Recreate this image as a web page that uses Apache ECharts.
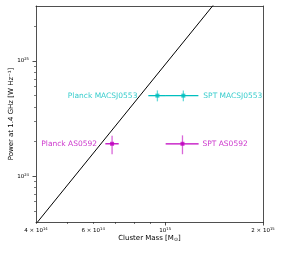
<!DOCTYPE html>
<html><head><meta charset="utf-8">
<script src="https://cdn.jsdelivr.net/npm/echarts@6/dist/echarts.min.js"></script>
<style>html,body{margin:0;padding:0;background:#fff}#c{width:293px;height:253px}</style>
</head><body><div id="c"></div>
<script>
const pointNames = ['Planck MACSJ0553', 'SPT MACSJ0553', 'Planck AS0592', 'SPT AS0592'];
const pointColors = ['#00bfbf', '#00bfbf', '#bf00bf', '#bf00bf'];
const labelSide = ['left', 'right', 'left', 'right'];
const massValues = [9.46e14, 1.137e15, 6.86e14, 1.13e15];
const massLow = [8.87e14, 1.005e15, 6.54e14, 1.003e15];
const massHigh = [1.005e15, 1.265e15, 7.19e14, 1.267e15];
const powerValues = [5.0e24, 5.0e24, 1.91e24, 1.91e24];
const powerLow = [4.46e24, 4.46e24, 1.55e24, 1.55e24];
const powerHigh = [5.55e24, 5.55e24, 2.24e24, 2.26e24];
const relationMass = [4.0e14, 1.45e15];
const relationPower = [3.85e23, 3.4e25];
const xRange = [4e14, 2e15];
const yRange = [4e23, 3e25];
const xMajorTicks = [1e15, 1.99999e15];
const xMinorTicks = [4.00001e14, 5e14, 6e14, 7e14, 8e14, 9e14];
const xTickLabels = [4.00001e14, 6e14, 1e15, 1.99999e15];
const yMajorTicks = [1e24, 1e25];
const yMinorTicks = [5e23, 6e23, 7e23, 8e23, 9e23, 2e24, 3e24, 4e24, 5e24, 6e24, 7e24, 8e24, 9e24, 2e25];
const xTitle = 'Cluster Mass [M{sub|\u2299}]';
const yTitle = 'Power at 1.4 GHz [W Hz\u207B\u00B9]';

function sciFmt(v) {
  const e = Math.floor(Math.log10(v) + 1e-4);
  const m = Math.round(v / Math.pow(10, e));
  return m === 1 ? '{b|10}{s|' + e + '}' : '{b|' + m + ' \u00D7 10}{s|' + e + '}';
}
const rich = { b: { fontSize: 5.5, fontFamily: 'DejaVu Sans', color: '#000' }, s: { fontSize: 3.8, fontFamily: 'DejaVu Sans', color: '#000', verticalAlign: 'bottom', padding: [0, 0, 3, 0] } };
const grid = { left: 36, top: 6, right: 30, bottom: 31, containLabel: false, outerBoundsMode: 'none' };

const chart = echarts.init(document.getElementById('c'), null, { renderer: 'canvas' });
const errData = massValues.map((m, i) => [m, powerValues[i], massLow[i], massHigh[i], powerLow[i], powerHigh[i], i]);
const ptData = massValues.map((m, i) => ({
  value: [m, powerValues[i]], name: pointNames[i],
  itemStyle: { color: pointColors[i] },
  label: { show: true, formatter: pointNames[i], position: labelSide[i], distance: (i === 2 ? 13 : 18), color: pointColors[i], fontSize: 7.5, fontFamily: 'DejaVu Sans' }
}));

chart.setOption({
  animation: false,
  grid: grid,
  xAxis: [
    { type: 'log', logBase: 10, min: xRange[0], max: xRange[1], position: 'bottom',
      axisLine: { show: true, onZero: false, lineStyle: { color: '#222', width: 0.8 } },
      axisTick: { show: true, customValues: xMajorTicks, length: 3.5, lineStyle: { color: '#222', width: 0.8 } },
      axisLabel: { show: true, customValues: xTickLabels, formatter: sciFmt, rich: rich, margin: 5, showMinLabel: true, showMaxLabel: true, hideOverlap: false },
      splitLine: { show: false }, minorTick: { show: false }, minorSplitLine: { show: false },
      name: xTitle, nameLocation: 'middle', nameGap: 12.5, nameMoveOverlap: false,
      nameTextStyle: { fontSize: 7, fontFamily: 'DejaVu Sans', color: '#000', rich: { sub: { fontSize: 5, fontFamily: 'DejaVu Sans', color: '#000', verticalAlign: 'top', padding: [3, 0, 0, 0] } } } },
    { type: 'log', logBase: 10, min: xRange[0], max: xRange[1], position: 'bottom', gridIndex: 0,
      axisLine: { show: false }, axisTick: { show: true, customValues: xMinorTicks, length: 2, lineStyle: { color: '#222', width: 0.6 } },
      axisLabel: { show: false }, splitLine: { show: false } },
    { type: 'log', logBase: 10, min: xRange[0], max: xRange[1], position: 'top', gridIndex: 0,
      axisLine: { show: true, onZero: false, lineStyle: { color: '#222', width: 0.8 } }, axisTick: { show: false }, axisLabel: { show: false }, splitLine: { show: false } }
  ],
  yAxis: [
    { type: 'log', logBase: 10, min: yRange[0], max: yRange[1], position: 'left',
      axisLine: { show: true, onZero: false, lineStyle: { color: '#222', width: 0.8 } },
      axisTick: { show: true, customValues: yMajorTicks, length: 3.5, lineStyle: { color: '#222', width: 0.8 } },
      axisLabel: { show: true, customValues: yMajorTicks, formatter: sciFmt, rich: rich, margin: 7 },
      splitLine: { show: false },
      name: yTitle, nameLocation: 'middle', nameGap: 21.5, nameRotate: 90, nameMoveOverlap: false,
      nameTextStyle: { fontSize: 7, fontFamily: 'DejaVu Sans', color: '#000' } },
    { type: 'log', logBase: 10, min: yRange[0], max: yRange[1], position: 'left', gridIndex: 0,
      axisLine: { show: false }, axisTick: { show: true, customValues: yMinorTicks, length: 2, lineStyle: { color: '#222', width: 0.6 } },
      axisLabel: { show: false }, splitLine: { show: false } },
    { type: 'log', logBase: 10, min: yRange[0], max: yRange[1], position: 'right', gridIndex: 0,
      axisLine: { show: true, onZero: false, lineStyle: { color: '#222', width: 0.8 } }, axisTick: { show: false }, axisLabel: { show: false }, splitLine: { show: false } }
  ],
  series: [
    { type: 'line', xAxisIndex: 0, yAxisIndex: 0, data: relationMass.map((m, i) => [m, relationPower[i]]),
      showSymbol: false, clip: true, lineStyle: { color: '#000', width: 1 }, silent: true },
    { type: 'custom', xAxisIndex: 0, yAxisIndex: 0, data: errData, clip: true,
      renderItem: function (params, api) {
        const i = api.value(6);
        const c = pointColors[i];
        const y = api.value(1), x = api.value(0);
        const h0 = api.coord([api.value(2), y]), h1 = api.coord([api.value(3), y]);
        const v0 = api.coord([x, api.value(4)]), v1 = api.coord([x, api.value(5)]);
        return { type: 'group', children: [
          { type: 'line', shape: { x1: h0[0], y1: h0[1], x2: h1[0], y2: h1[1] }, style: { stroke: c, lineWidth: 1.3 } },
          { type: 'line', shape: { x1: v0[0], y1: v0[1], x2: v1[0], y2: v1[1] }, style: { stroke: c, lineWidth: 1.3, opacity: 0.6 } }
        ] };
      } },
    { type: 'scatter', xAxisIndex: 0, yAxisIndex: 0, symbol: 'rect', symbolSize: 4, data: ptData }
  ]
});
</script>
</body></html>
